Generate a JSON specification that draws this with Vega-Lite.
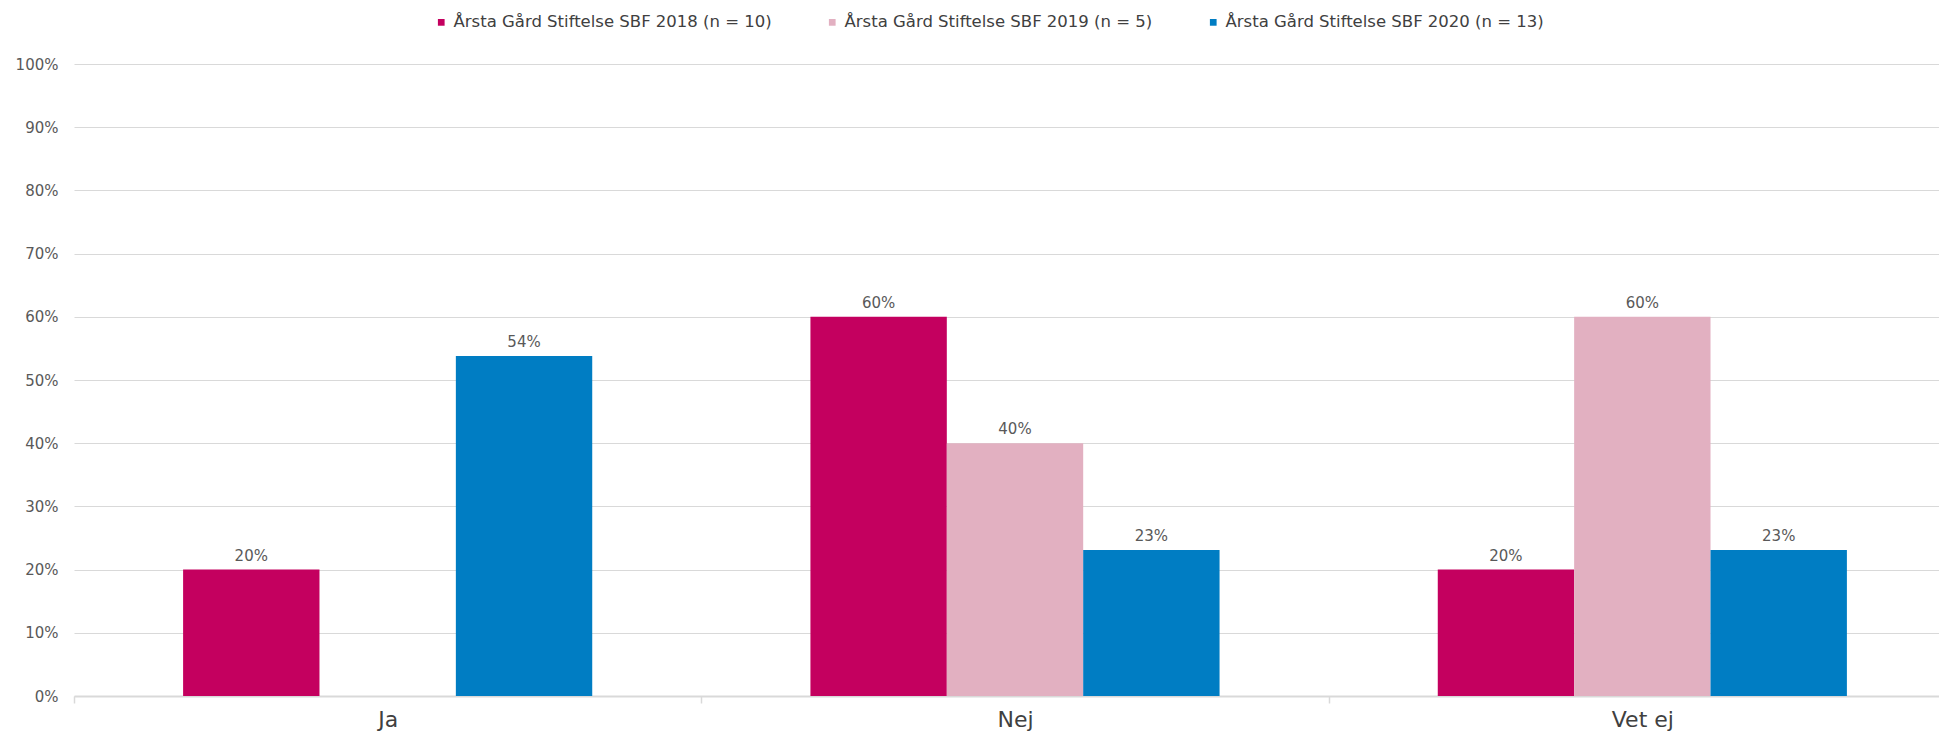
{
  "$schema": "https://vega.github.io/schema/vega-lite/v6.json",
  "width": 1865,
  "height": 632,
  "autosize": {"type": "none"},
  "padding": {"left": 74, "top": 64, "right": 0, "bottom": 37},
  "background": "white",
  "config": {
    "view": {"stroke": null},
    "font": "DejaVu Sans"
  },
  "data": {
    "values": [
      {"svar": "Ja", "serie": "Årsta Gård Stiftelse SBF 2018 (n = 10)", "andel": 0.2},
      {"svar": "Ja", "serie": "Årsta Gård Stiftelse SBF 2020 (n = 13)", "andel": 0.538},
      {"svar": "Nej", "serie": "Årsta Gård Stiftelse SBF 2018 (n = 10)", "andel": 0.6},
      {"svar": "Nej", "serie": "Årsta Gård Stiftelse SBF 2019 (n = 5)", "andel": 0.4},
      {"svar": "Nej", "serie": "Årsta Gård Stiftelse SBF 2020 (n = 13)", "andel": 0.231},
      {"svar": "Vet ej", "serie": "Årsta Gård Stiftelse SBF 2018 (n = 10)", "andel": 0.2},
      {"svar": "Vet ej", "serie": "Årsta Gård Stiftelse SBF 2019 (n = 5)", "andel": 0.6},
      {"svar": "Vet ej", "serie": "Årsta Gård Stiftelse SBF 2020 (n = 13)", "andel": 0.231}
    ]
  },
  "encoding": {
    "x": {
      "field": "svar",
      "type": "nominal",
      "sort": ["Ja", "Nej", "Vet ej"],
      "scale": {"paddingInner": 0, "paddingOuter": 0, "range": [0, 1882]},
      "axis": {
        "title": null,
        "labelAngle": 0,
        "labelFontSize": 22,
        "labelColor": "#404040",
        "labelPadding": 6,
        "tickBand": "extent",
        "tickColor": "#d9d9d9",
        "tickSize": 7,
        "tickWidth": 1.5,
        "domainColor": "#d9d9d9",
        "domainWidth": 2,
        "grid": false
      }
    },
    "xOffset": {
      "field": "serie",
      "type": "nominal",
      "sort": ["Årsta Gård Stiftelse SBF 2018 (n = 10)", "Årsta Gård Stiftelse SBF 2019 (n = 5)", "Årsta Gård Stiftelse SBF 2020 (n = 13)"],
      "scale": {"paddingInner": 0, "paddingOuter": 0.8}
    },
    "y": {
      "field": "andel",
      "type": "quantitative",
      "scale": {"domain": [0, 1], "nice": false},
      "axis": {
        "title": null,
        "format": ".0%",
        "values": [0, 0.1, 0.2, 0.3, 0.4, 0.5, 0.6, 0.7, 0.8, 0.9, 1],
        "labelFontSize": 15,
        "labelColor": "#595959",
        "labelPadding": 16,
        "ticks": false,
        "domain": false,
        "gridColor": "#d9d9d9",
        "gridWidth": 1.2
      }
    }
  },
  "layer": [
    {
      "mark": {"type": "bar"},
      "encoding": {
        "color": {
          "field": "serie",
          "type": "nominal",
          "sort": ["Årsta Gård Stiftelse SBF 2018 (n = 10)", "Årsta Gård Stiftelse SBF 2019 (n = 5)", "Årsta Gård Stiftelse SBF 2020 (n = 13)"],
          "scale": {
            "domain": ["Årsta Gård Stiftelse SBF 2018 (n = 10)", "Årsta Gård Stiftelse SBF 2019 (n = 5)", "Årsta Gård Stiftelse SBF 2020 (n = 13)"],
            "range": ["#C4005F", "#E2B0C1", "#007DC3"]
          },
          "legend": {
            "title": null,
            "orient": "none",
            "direction": "horizontal",
            "columns": 3,
            "legendX": 359,
            "legendY": -50,
            "padding": 0,
            "symbolType": "square",
            "symbolSize": 45,
            "symbolStrokeWidth": 0,
            "labelFontSize": 16.5,
            "labelColor": "#404040",
            "labelOffset": 4,
            "labelLimit": 0,
            "columnPadding": 52
          }
        }
      }
    },
    {
      "mark": {"type": "text", "dy": -9, "baseline": "alphabetic", "fontSize": 15, "color": "#595959"},
      "encoding": {
        "text": {"field": "andel", "type": "quantitative", "format": ".0%"}
      }
    }
  ]
}
